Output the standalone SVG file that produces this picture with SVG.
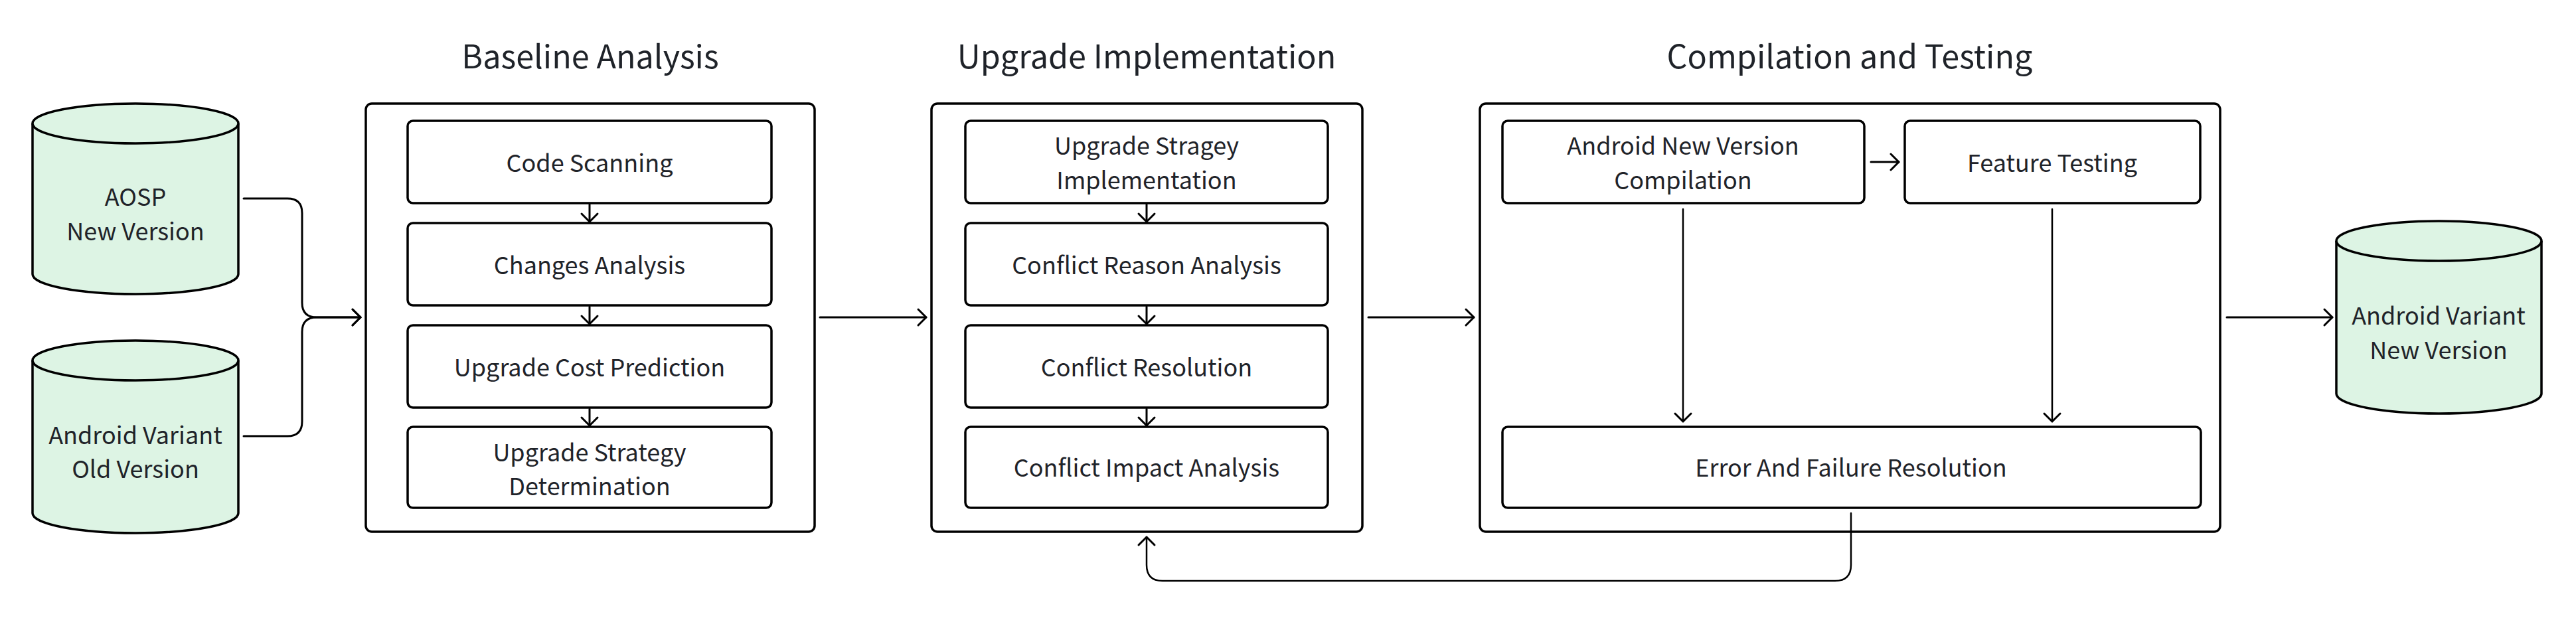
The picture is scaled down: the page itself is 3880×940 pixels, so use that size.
<svg xmlns="http://www.w3.org/2000/svg" width="3880" height="940" viewBox="0 0 3880 940">
<style>
.t{font-family:"Noto Sans CJK SC","Source Sans Pro","Liberation Sans",sans-serif;font-size:36px;fill:#1f2329;text-anchor:middle}
.h{font-family:"Noto Sans CJK SC","Source Sans Pro","Liberation Sans",sans-serif;font-size:48.5px;fill:#1f2329;text-anchor:middle}
.box{fill:#ffffff;stroke:#000000;stroke-width:3.5}
.cyl{fill:#ddf4e4;stroke:#000000;stroke-width:3.5}
.ln{fill:none;stroke:#000000;stroke-width:3;stroke-linecap:round;stroke-linejoin:round}
.thin{fill:none;stroke:#000000;stroke-width:2.5;stroke-linecap:round}
</style>
<defs>
<marker id="arr" viewBox="-15 -15 18 30" markerWidth="18" markerHeight="30" refX="0" refY="0" orient="auto" markerUnits="userSpaceOnUse">
<path d="M-12,-12 L0,0 L-12,12" fill="none" stroke="#000000" stroke-width="3" stroke-linecap="round" stroke-linejoin="round"/>
</marker>
</defs>
<rect width="3880" height="940" fill="#ffffff"/>

<g id="title-baseline"><text class="h" x="889" y="103">Baseline Analysis</text></g>
<g id="title-upgrade"><text class="h" x="1727" y="103">Upgrade Implementation</text></g>
<g id="title-compile"><text class="h" x="2786" y="103">Compilation and Testing</text></g>

<g id="group-baseline"><rect class="box" x="551" y="156" width="676" height="645" rx="9"/></g>
<g id="group-upgrade"><rect class="box" x="1403" y="156" width="649" height="645" rx="9"/></g>
<g id="group-compile"><rect class="box" x="2229" y="156" width="1115" height="645" rx="9"/></g>

<g id="aosp-new">
<path class="cyl" d="M49,186 A155,30 0 0 1 359,186 V413 A155,30 0 0 1 49,413 Z"/>
<path class="cyl" d="M49,186 A155,30 0 0 0 359,186"/>
<text class="t" x="204" y="310">AOSP</text>
<text class="t" x="204" y="362">New Version</text>
</g>
<g id="variant-old">
<path class="cyl" d="M49,543 A155,30 0 0 1 359,543 V773 A155,30 0 0 1 49,773 Z"/>
<path class="cyl" d="M49,543 A155,30 0 0 0 359,543"/>
<text class="t" x="204" y="669">Android Variant</text>
<text class="t" x="204" y="720">Old Version</text>
</g>
<g id="variant-new">
<path class="cyl" d="M3519,363 A154.5,30 0 0 1 3828,363 V593 A154.5,30 0 0 1 3519,593 Z"/>
<path class="cyl" d="M3519,363 A154.5,30 0 0 0 3828,363"/>
<text class="t" x="3673" y="489">Android Variant</text>
<text class="t" x="3673" y="541">New Version</text>
</g>

<g id="code-scanning"><rect class="box" x="614" y="182" width="548" height="124" rx="8"/><text class="t" x="888" y="259">Code Scanning</text></g>
<g id="changes-analysis"><rect class="box" x="614" y="336" width="548" height="124" rx="8"/><text class="t" x="888" y="413">Changes Analysis</text></g>
<g id="cost-prediction"><rect class="box" x="614" y="490" width="548" height="124" rx="8"/><text class="t" x="888" y="567">Upgrade Cost Prediction</text></g>
<g id="strategy-determination"><rect class="box" x="614" y="643" width="548" height="122" rx="8"/><text class="t" x="888" y="695">Upgrade Strategy</text><text class="t" x="888" y="746">Determination</text></g>

<g id="strategy-implementation"><rect class="box" x="1454" y="182" width="546" height="124" rx="8"/><text class="t" x="1727" y="233">Upgrade Stragey</text><text class="t" x="1727" y="285">Implementation</text></g>
<g id="conflict-reason"><rect class="box" x="1454" y="336" width="546" height="124" rx="8"/><text class="t" x="1727" y="413">Conflict Reason Analysis</text></g>
<g id="conflict-resolution"><rect class="box" x="1454" y="490" width="546" height="124" rx="8"/><text class="t" x="1727" y="567">Conflict Resolution</text></g>
<g id="conflict-impact"><rect class="box" x="1454" y="643" width="546" height="122" rx="8"/><text class="t" x="1727" y="718">Conflict Impact Analysis</text></g>

<g id="compilation"><rect class="box" x="2263" y="182" width="545" height="124" rx="8"/><text class="t" x="2535" y="233">Android New Version</text><text class="t" x="2535" y="285">Compilation</text></g>
<g id="feature-testing"><rect class="box" x="2869" y="182" width="445" height="124" rx="8"/><text class="t" x="3091" y="259">Feature Testing</text></g>
<g id="error-resolution"><rect class="box" x="2263" y="643" width="1052" height="122" rx="8"/><text class="t" x="2788" y="718">Error And Failure Resolution</text></g>

<g id="connectors">
<path class="ln" d="M367,299 H433 Q455,299 455,321 V456 Q455,478 477,478 H543" marker-end="url(#arr)"/>
<path class="ln" d="M367,657 H433 Q455,657 455,635 V500 Q455,478 477,478 H543" marker-end="url(#arr)"/>
<path class="ln" d="M1235,478 H1395" marker-end="url(#arr)"/>
<path class="ln" d="M2061,478 H2220" marker-end="url(#arr)"/>
<path class="ln" d="M3354,478 H3513" marker-end="url(#arr)"/>
<path class="ln" d="M888,308 V334" marker-end="url(#arr)"/>
<path class="ln" d="M888,462 V488" marker-end="url(#arr)"/>
<path class="ln" d="M888,616 V641" marker-end="url(#arr)"/>
<path class="ln" d="M1727,308 V334" marker-end="url(#arr)"/>
<path class="ln" d="M1727,462 V488" marker-end="url(#arr)"/>
<path class="ln" d="M1727,616 V641" marker-end="url(#arr)"/>
<path class="ln" d="M2818,244 H2860" marker-end="url(#arr)"/>
<path class="thin" d="M2535,315 V635" marker-end="url(#arr)"/>
<path class="thin" d="M3091,315 V635" marker-end="url(#arr)"/>
<path class="thin" d="M2788,773 V851 Q2788,875 2764,875 H1751 Q1727,875 1727,851 V809" marker-end="url(#arr)"/>
</g>
</svg>
